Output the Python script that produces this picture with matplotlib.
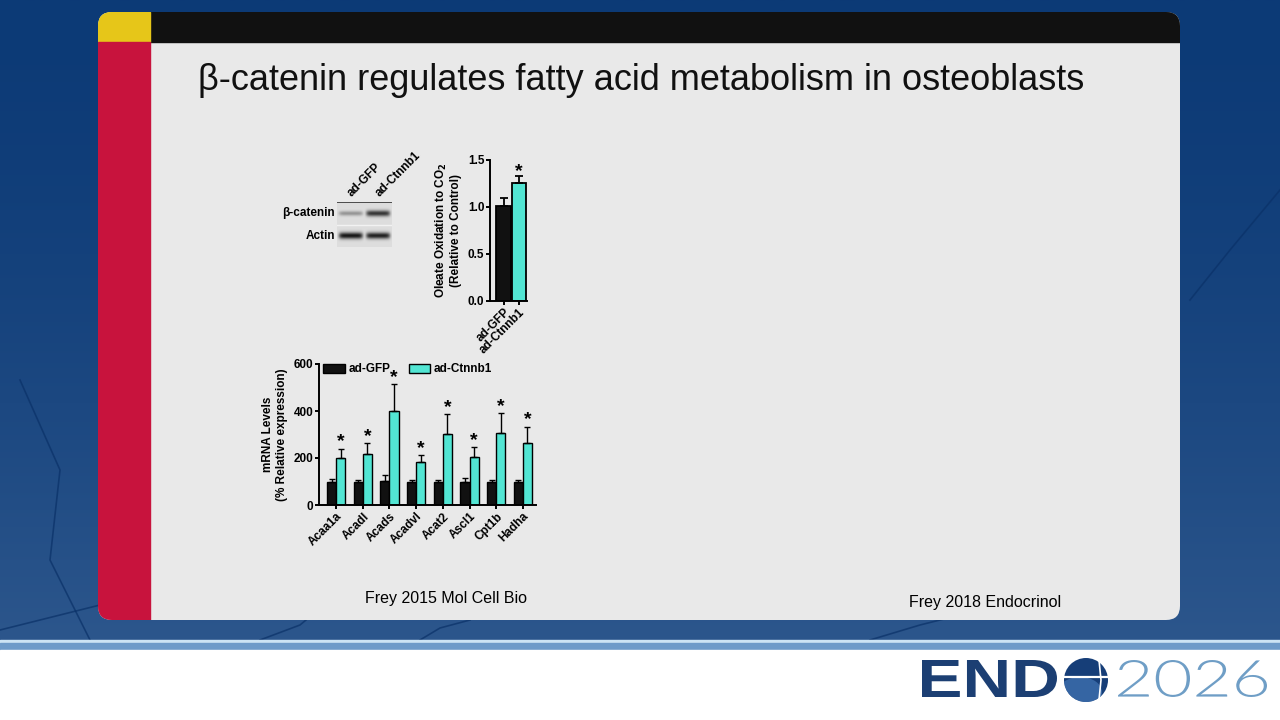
import numpy as np
import matplotlib
matplotlib.use("Agg")
import matplotlib.pyplot as plt
from matplotlib.patches import FancyBboxPatch, Rectangle, Circle, Ellipse, PathPatch
from matplotlib.textpath import TextPath
from matplotlib.font_manager import FontProperties
from matplotlib.transforms import Affine2D

plt.rcParams['font.family'] = ['Liberation Sans', 'DejaVu Sans']

W, H = 1280, 720

# bottom chart: mRNA levels
genes = ['Acaa1a', 'Acadl', 'Acads', 'Acadvl', 'Acat2', 'Ascl1', 'Cpt1b', 'Hadha']
gfp_mrna = [100, 100, 102, 100, 100, 100, 100, 100]
gfp_err = [12, 6, 27, 8, 6, 17, 8, 8]
ctn_mrna = [200, 216, 398, 181, 303, 205, 308, 265]
ctn_err = [40, 47, 118, 33, 83, 40, 82, 69]
mrna_sig = [True] * 8

# top chart: oleate oxidation
ox_groups = ['ad-GFP', 'ad-Ctnnb1']
ox_values = [1.01, 1.26]
ox_err = [0.08, 0.07]

# western blot band intensities (ad-GFP, ad-Ctnnb1)
blot_rows = ['β-catenin', 'Actin']
blot_intensity = [[0.35, 0.8], [0.95, 0.9]]

teal = '#52e5d3'


def fig_rect(left, top, right, bottom):
    return [left / W, 1 - bottom / H, (right - left) / W, (bottom - top) / H]


def fit_text(ax, s, x0, x1, ytop, ybot, prop, color):
    # stretch a text path into a box given in pixel coords (y downwards)
    tp = TextPath((0, 0), s, size=10, prop=prop)
    bb = tp.get_extents()
    tr = Affine2D().translate(-bb.x0, -bb.y0).scale((x1 - x0) / bb.width,
                                                    -(ybot - ytop) / bb.height)
    tr = tr.translate(x0, ybot)
    ax.add_patch(PathPatch(tr.transform_path(tp), facecolor=color, lw=0, zorder=4))


fig = plt.figure(figsize=(12.8, 7.2), dpi=100)
bg = fig.add_axes([0, 0, 1, 1])
bg.set_xlim(0, W)
bg.set_ylim(H, 0)
bg.axis('off')

# slide background: blue gradient
grad = np.linspace(0, 1, 256)[:, None]
top_c = np.array([0x0c, 0x3a, 0x76]) / 255
bot_c = np.array([0x2c, 0x56, 0x8c]) / 255
img = top_c + (bot_c - top_c) * grad[:, :, None] ** 1.5
bg.imshow(img, extent=[0, W, 640, 0], aspect='auto', zorder=0)
for xs, ys in [([20, 60, 50, 90], [380, 470, 560, 640]),
               ([0, 60, 100], [630, 615, 605]),
               ([260, 300, 330], [640, 625, 600]),
               ([420, 440, 470], [640, 628, 620]),
               ([870, 920, 960], [640, 625, 615]),
               ([1190, 1230, 1280], [300, 250, 190])]:
    bg.plot(xs, ys, color='#0a3168', lw=1.2, alpha=0.7, zorder=0)
bg.add_patch(Rectangle((0, 640), W, 3, color='#cde4f4', zorder=1))
bg.add_patch(Rectangle((0, 643), W, 7, color='#6e9bc9', zorder=1))
bg.add_patch(Rectangle((0, 650), W, 70, color='white', zorder=1))

# slide panel
panel = FancyBboxPatch((98, 12), 1082, 608, boxstyle='round,pad=0,rounding_size=14',
                       facecolor='#e9e9e9', edgecolor='none', zorder=2)
bg.add_patch(panel)
for (x, y, w, h, c) in [(150, 12, 1030, 30, '#111111'), (98, 12, 52, 30, '#e6c619'),
                        (98, 42, 52, 578, '#c8133d')]:
    r = Rectangle((x, y), w, h, color=c, zorder=3)
    bg.add_patch(r)
    r.set_clip_path(panel)

bg.text(198, 80, 'β-catenin regulates fatty acid metabolism in osteoblasts', fontsize=26,
        va='center', ha='left', color='#111111', zorder=4)
bg.text(446, 599, 'Frey 2015 Mol Cell Bio', fontsize=11.5, ha='center', va='center', zorder=4)
bg.text(985, 602, 'Frey 2018 Endocrinol', fontsize=11.5, ha='center', va='center', zorder=4)

# logo
fit_text(bg, 'END', 922, 1057, 660, 697,
         FontProperties(family='Liberation Sans', weight='bold'), '#1c3f73')
fit_text(bg, '2026', 1118, 1267, 660, 697,
         FontProperties(family='Lato', weight=300), '#6f9ec6')
globe = Circle((1086, 680), 22, facecolor='#163e78', edgecolor='none', zorder=4)
bg.add_patch(globe)
low = Ellipse((1080, 692), 44, 30, facecolor='#3e6fae', edgecolor='none', alpha=0.8, zorder=5)
bg.add_patch(low)
low.set_clip_path(globe)
bg.plot([1064, 1108], [677, 677], color='white', lw=1.6, zorder=6)
bg.plot([1099, 1101, 1099], [660, 680, 700], color='white', lw=1.2, zorder=6)

# western blot
bx = fig.add_axes(fig_rect(337, 202, 392, 247))
bx.set_xlim(0, 2)
bx.set_ylim(2, 0)
bx.axis('off')
yy = np.linspace(0, 2, 90)[:, None]
xx = np.linspace(0, 2, 110)[None, :]
blot = np.zeros((90, 110))
for r, row in enumerate(blot_intensity):
    for c, val in enumerate(row):
        lane = np.exp(-((xx - c - 0.5) / 0.44) ** 8)
        band = np.exp(-((yy - 0.5 - r) / (0.08 + 0.07 * val)) ** 2)
        blot = np.maximum(blot, val * lane * band)
bx.imshow(1 - 0.95 * blot, cmap='gray', vmin=0, vmax=1.15, extent=[0, 2, 2, 0],
          aspect='auto', interpolation='bilinear')
bx.plot([0, 2], [0.02, 0.02], color='#333333', lw=1.2)
bx.plot([0, 2], [1.0, 1.0], color='#f2f2f2', lw=1)
for r, name in enumerate(blot_rows):
    bx.text(-0.07, 0.5 + r, name, fontsize=8.5, fontweight='bold', ha='right', va='center')
for c, name in enumerate(ox_groups):
    bx.text(c + 0.62, -0.12, name, fontsize=8.5, fontweight='bold', rotation=45,
            ha='left', va='bottom', rotation_mode='anchor')

# oleate oxidation chart
ax1 = fig.add_axes(fig_rect(490, 160, 527, 300.7))
ax1.set_facecolor('none')
xo = np.arange(len(ox_groups))
ax1.bar(xo, ox_values, width=0.95, color=['#111111', teal], edgecolor='black', lw=1.3)
ax1.errorbar(xo, ox_values, yerr=[[0, 0], ox_err], fmt='none', ecolor='black',
             capsize=3, elinewidth=1.3, capthick=1.3)
ax1.text(1, ox_values[1] + ox_err[1] - 0.045, '*', fontsize=14, fontweight='bold',
         ha='center', va='bottom')
ax1.set_xlim(-0.9, 1.55)
ax1.set_ylim(0, 1.5)
ax1.set_yticks([0, 0.5, 1.0, 1.5])
ax1.set_yticklabels(['0.0', '0.5', '1.0', '1.5'])
ax1.set_xticks(xo)
ax1.set_xticklabels(ox_groups, rotation=45, ha='right', rotation_mode='anchor')
ax1.set_ylabel('Oleate Oxidation to CO$_\\mathbf{2}$\n(Relative to Control)', fontsize=8.5,
               fontweight='bold', labelpad=4)
for s in ['top', 'right']:
    ax1.spines[s].set_visible(False)
for s in ['left', 'bottom']:
    ax1.spines[s].set_linewidth(1.4)
ax1.tick_params(width=1.4, length=3, labelsize=8.5, pad=1)
for t in ax1.get_xticklabels() + ax1.get_yticklabels():
    t.set_fontweight('bold')

# mRNA chart
ax2 = fig.add_axes(fig_rect(319, 364, 536, 505))
ax2.set_facecolor('none')
xg = np.arange(len(genes))
bw = 0.34
ax2.bar(xg - bw / 2, gfp_mrna, width=bw, color='#111111', edgecolor='black', lw=1,
        label='ad-GFP')
ax2.bar(xg + bw / 2, ctn_mrna, width=bw, color=teal, edgecolor='black', lw=1,
        label='ad-Ctnnb1')
ax2.errorbar(xg - bw / 2, gfp_mrna, yerr=[np.zeros(8), gfp_err], fmt='none', ecolor='black',
             capsize=2.5, elinewidth=1, capthick=1)
ax2.errorbar(xg + bw / 2, ctn_mrna, yerr=[np.zeros(8), ctn_err], fmt='none', ecolor='black',
             capsize=2.5, elinewidth=1, capthick=1)
for i in range(len(genes)):
    if mrna_sig[i]:
        ax2.text(xg[i] + bw / 2, ctn_mrna[i] + ctn_err[i] - 8, '*', fontsize=14,
                 fontweight='bold', ha='center', va='bottom')
ax2.set_xlim(-0.64, 7.49)
ax2.set_ylim(0, 600)
ax2.set_yticks([0, 200, 400, 600])
ax2.set_xticks(xg)
ax2.set_xticklabels(genes, rotation=45, ha='right', rotation_mode='anchor')
ax2.set_ylabel('mRNA Levels\n(% Relative expression)', fontsize=8.5, fontweight='bold',
               labelpad=4)
for s in ['top', 'right']:
    ax2.spines[s].set_visible(False)
for s in ['left', 'bottom']:
    ax2.spines[s].set_linewidth(1.4)
ax2.tick_params(width=1.4, length=3, labelsize=8.5, pad=1)
for t in ax2.get_xticklabels() + ax2.get_yticklabels():
    t.set_fontweight('bold')
leg = ax2.legend(loc='upper left', ncol=2, frameon=False, handlelength=1.8,
                 handleheight=0.8, handletextpad=0.3, columnspacing=1.6,
                 borderaxespad=0.0, borderpad=0.0, bbox_to_anchor=(0.02, 1.005),
                 prop={'weight': 'bold', 'size': 8.5})

fig.savefig('out.png', dpi=100)
